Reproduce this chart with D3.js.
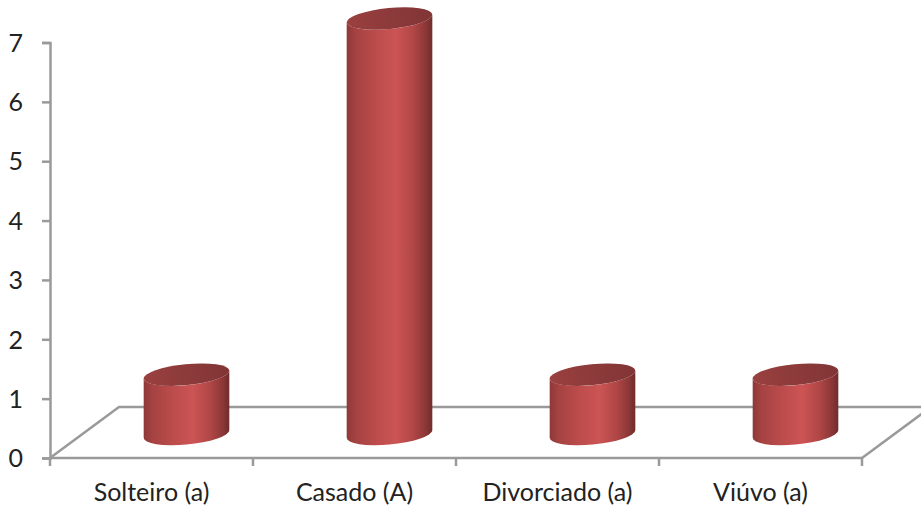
<!DOCTYPE html>
<html>
<head>
<meta charset="utf-8">
<script src="https://cdn.jsdelivr.net/npm/d3@7"></script>
<style>
  html, body { margin: 0; padding: 0; background: #fff; }
  svg { display: block; }
  text { font-family: Lato, "Open Sans", sans-serif; fill: #222; }
</style>
</head>
<body>
<svg id="chart" width="921" height="508"></svg>
<script>
const categories = ["Solteiro (a)", "Casado (A)", "Divorciado (a)", "Viúvo (a)"];
const counts = [1, 7, 1, 1];
const yTicks = [0, 1, 2, 3, 4, 5, 6, 7];

const width = 921, height = 508;
const axisColor = "#9a9a9a";
const depth = { dx: 69, dy: -51 };     // floor receding direction
const barShift = { dx: 35, dy: -24 };  // cylinder base sits mid-way across the floor
const tilt = -5.5, rx = 43, ry = 10.5; // cylinder end ellipses

const svg = d3.select("#chart");
const x = d3.scaleBand().domain(categories).range([50, 862]);
const y = d3.scaleLinear().domain([0, 7]).range([458, 42.5]);

// Horizontal shading shared by all cylinder bodies
const defs = svg.append("defs");
const bodyStops = [[0, "#8e3838"], [0.1, "#a54242"], [0.35, "#bd4c4c"], [0.58, "#cc5454"], [0.78, "#b04646"], [0.93, "#8a3636"], [1, "#6f2c2c"]];
const body = defs.append("linearGradient").attr("id", "body");
body.selectAll("stop").data(bodyStops).join("stop")
  .attr("offset", d => d[0]).attr("stop-color", d => d[1]);
const topStops = [[0, "#9a4040"], [0.5, "#8d3a3a"], [1, "#813535"]];
const cap = defs.append("linearGradient").attr("id", "cap");
cap.selectAll("stop").data(topStops).join("stop")
  .attr("offset", d => d[0]).attr("stop-color", d => d[1]);

// Floor outline
const x0 = x.range()[0], x1 = x.range()[1], y0 = y(0);
svg.append("path")
  .attr("d", `M${x0},${y0}L${x0 + depth.dx},${y0 + depth.dy}H${width}`)
  .attr("fill", "none").attr("stroke", axisColor).attr("stroke-width", 2.5);
svg.append("path")
  .attr("d", `M${x1},${y0}L${x1 + depth.dx},${y0 + depth.dy}`)
  .attr("fill", "none").attr("stroke", axisColor).attr("stroke-width", 2.5);

// Value axis
const yAxis = svg.append("g").attr("transform", `translate(${x0},0)`)
  .call(d3.axisLeft(y).tickValues(yTicks).tickFormat(d3.format("d")).tickSize(8).tickPadding(19));
yAxis.select(".domain").attr("stroke", axisColor).attr("stroke-width", 2.5);
yAxis.selectAll(".tick line").attr("stroke", axisColor).attr("stroke-width", 2.5);
yAxis.selectAll("text").attr("font-size", 25).attr("dy", "0.35em");

// Category axis: ticks fall on the band edges
const edges = categories.map(c => x(c)).concat(x1);
const xAxisG = svg.append("g");
xAxisG.append("line").attr("x1", x0).attr("x2", x1).attr("y1", y0).attr("y2", y0)
  .attr("stroke", axisColor).attr("stroke-width", 2.5);
xAxisG.selectAll(".edge").data(edges).join("line").attr("class", "edge")
  .attr("x1", d => d).attr("x2", d => d).attr("y1", y0).attr("y2", y0 + 8)
  .attr("stroke", axisColor).attr("stroke-width", 2.5);
xAxisG.selectAll("text").data(categories).join("text")
  .attr("x", d => x(d) + x.bandwidth() / 2).attr("y", 501)
  .attr("text-anchor", "middle").attr("font-size", 25)
  .text(d => d);

// Points where a tilted ellipse reaches its leftmost/rightmost extent
const th = tilt * Math.PI / 180;
const t = Math.atan2(-ry * Math.sin(th), rx * Math.cos(th));
const ex = rx * Math.cos(t) * Math.cos(th) - ry * Math.sin(t) * Math.sin(th);
const ey = rx * Math.cos(t) * Math.sin(th) + ry * Math.sin(t) * Math.cos(th);

// Cylinders
const bars = svg.append("g").selectAll("g").data(categories.map((c, i) => ({ c, v: counts[i] }))).join("g");
bars.each(function (d) {
  const g = d3.select(this);
  const cx = x(d.c) + x.bandwidth() / 2 + barShift.dx;
  const base = y(0) + barShift.dy;
  const top = y(d.v) + barShift.dy;
  g.append("path")
    .attr("d", `M${cx - ex},${top - ey}L${cx - ex},${base - ey}` +
      `A${rx},${ry} ${tilt} 0 0 ${cx + ex},${base + ey}` +
      `L${cx + ex},${top + ey}A${rx},${ry} ${tilt} 0 1 ${cx - ex},${top - ey}Z`)
    .attr("fill", "url(#body)");
  g.append("ellipse")
    .attr("rx", rx).attr("ry", ry)
    .attr("transform", `translate(${cx},${top}) rotate(${tilt})`)
    .attr("fill", "url(#cap)");
});
</script>
</body>
</html>
